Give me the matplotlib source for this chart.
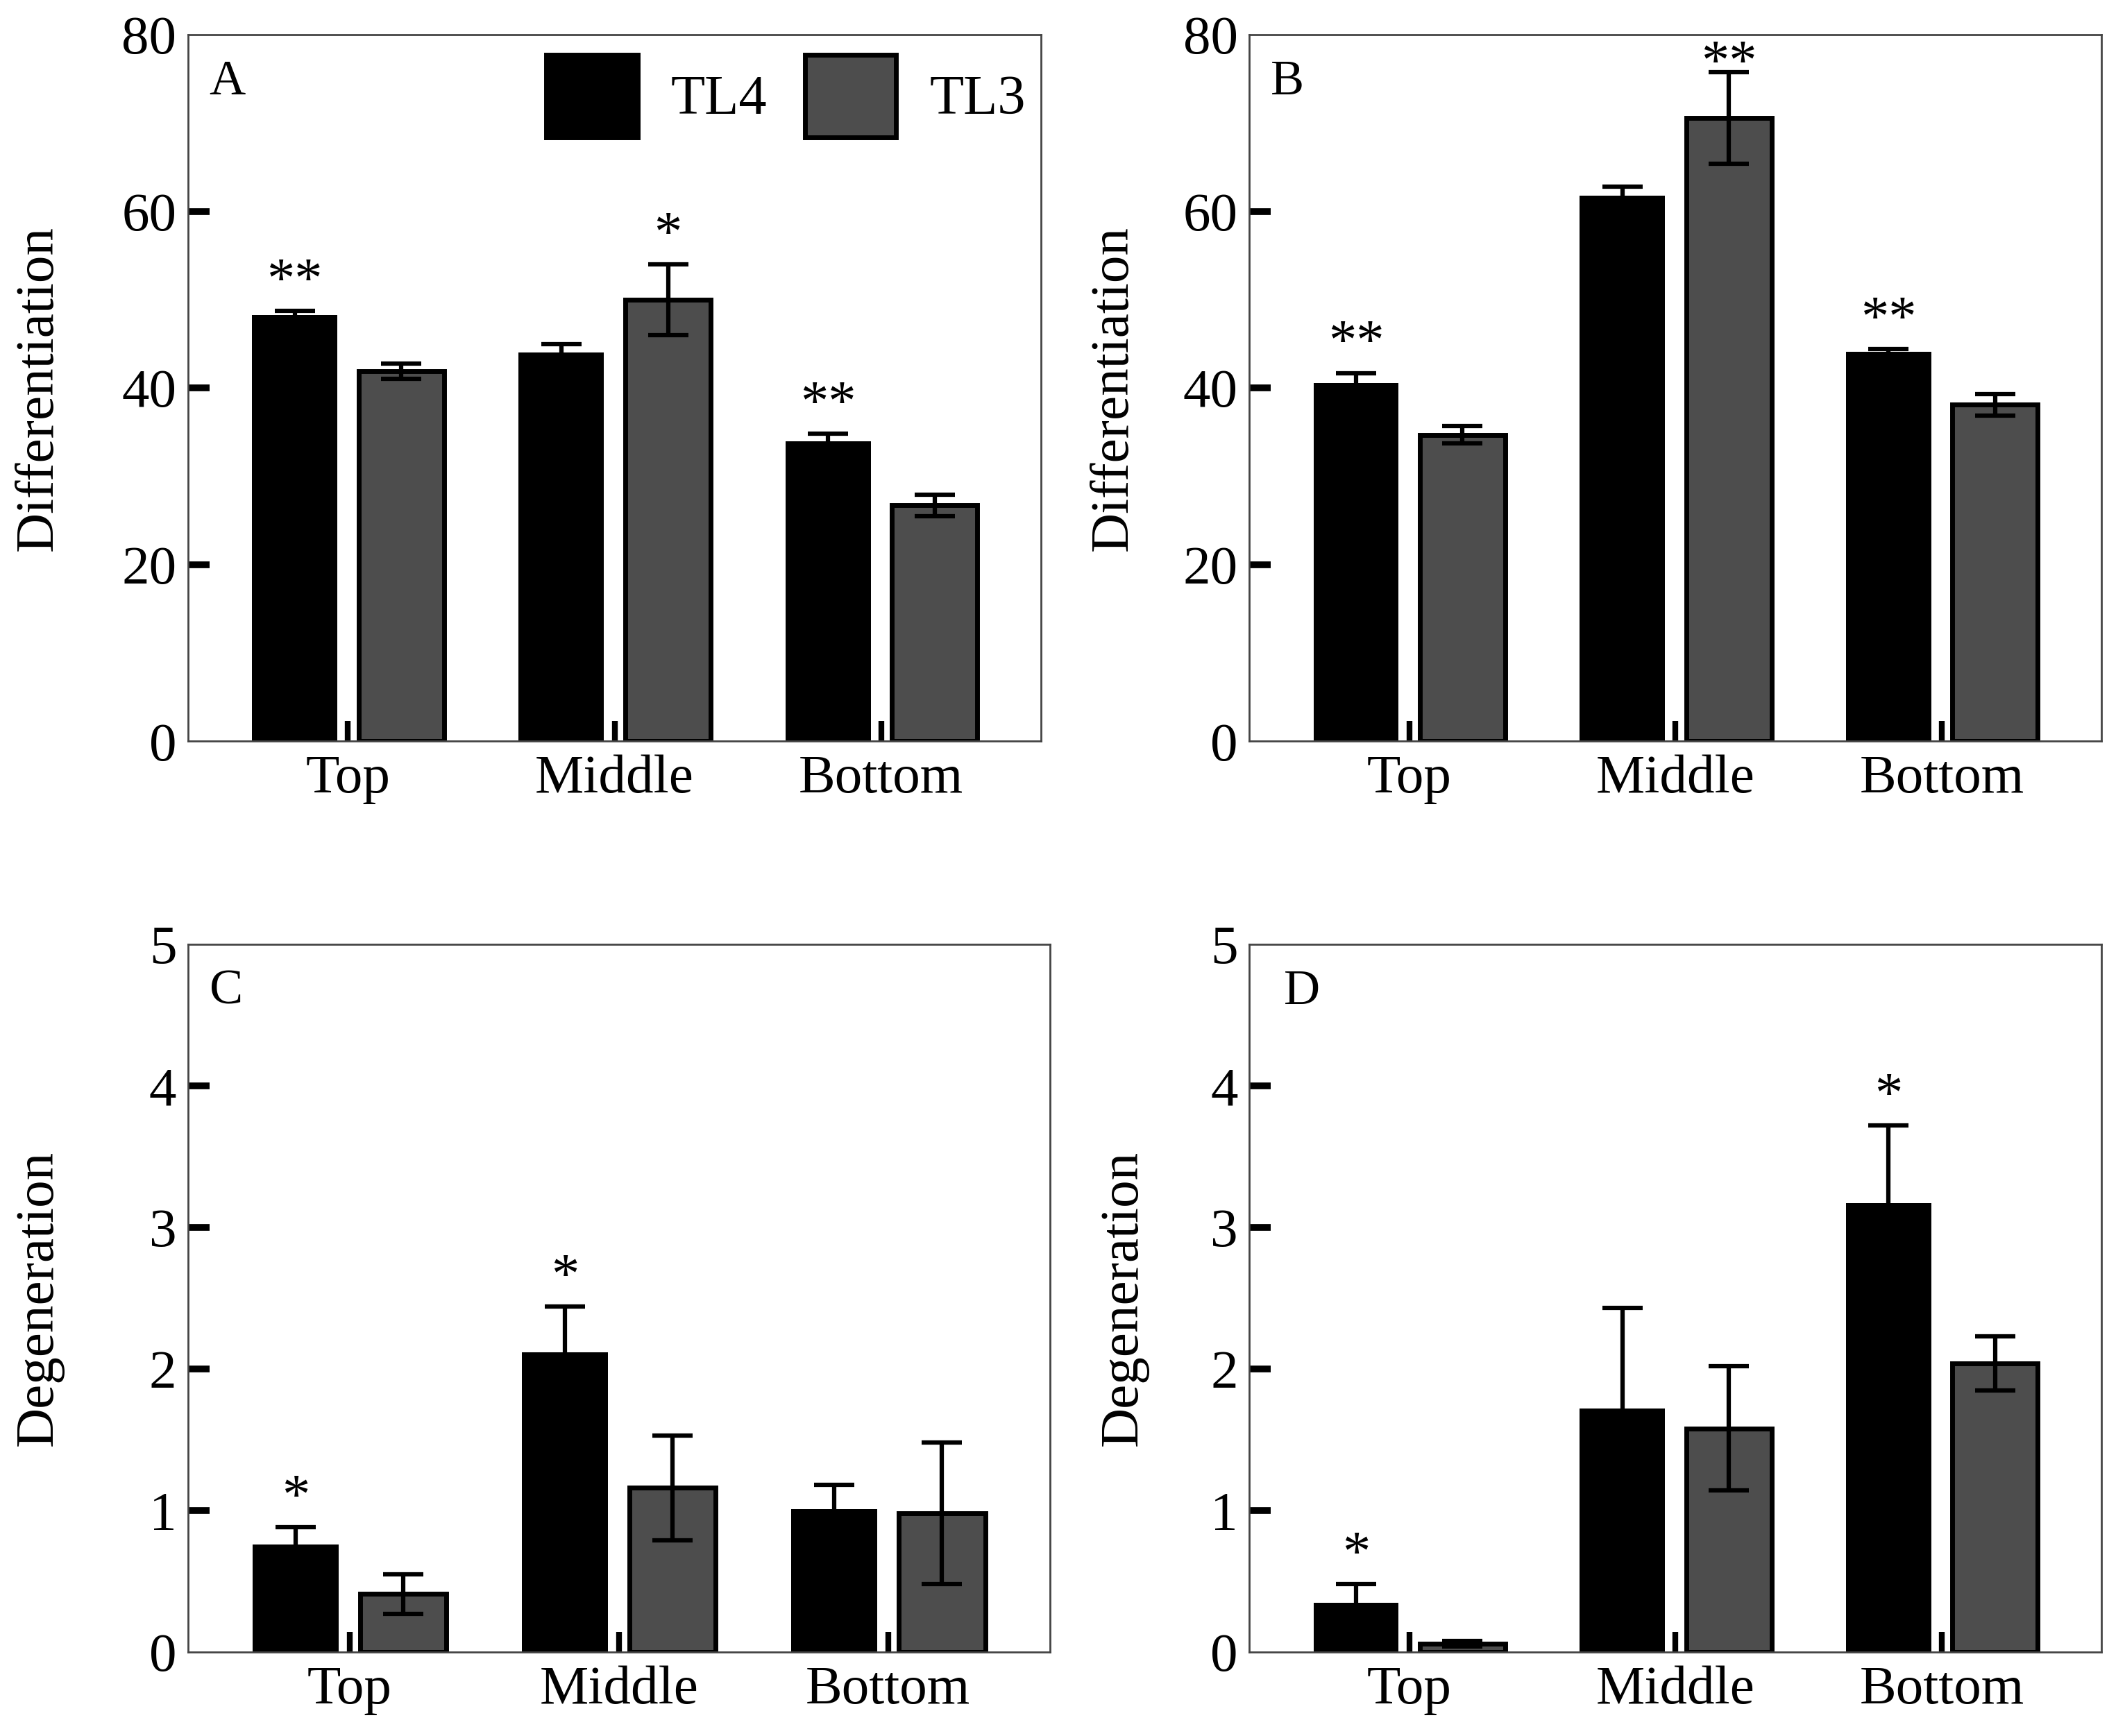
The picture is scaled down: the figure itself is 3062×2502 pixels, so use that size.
import numpy as np
import matplotlib
matplotlib.use("Agg")
import matplotlib.pyplot as plt

plt.rcParams['font.family'] = ['Liberation Serif', 'DejaVu Serif']

positions = ['Top', 'Middle', 'Bottom']
series = ['TL4', 'TL3']

# differentiation, panels A and B
diff_A_tl4 = [48.3, 44.0, 34.0]
diff_A_tl4_err = [0.4, 1.0, 0.8]
diff_A_tl3 = [41.9, 50.0, 26.7]
diff_A_tl3_err = [0.9, 4.0, 1.2]

diff_B_tl4 = [40.6, 61.8, 44.1]
diff_B_tl4_err = [1.1, 1.0, 0.3]
diff_B_tl3 = [34.7, 70.6, 38.1]
diff_B_tl3_err = [1.0, 5.2, 1.2]

# degeneration, panels C and D
deg_C_tl4 = [0.76, 2.12, 1.01]
deg_C_tl4_err = [0.12, 0.32, 0.17]
deg_C_tl3 = [0.41, 1.16, 0.98]
deg_C_tl3_err = [0.14, 0.37, 0.50]

deg_D_tl4 = [0.35, 1.72, 3.17]
deg_D_tl4_err = [0.13, 0.71, 0.55]
deg_D_tl3 = [0.06, 1.58, 2.04]
deg_D_tl3_err = [0.02, 0.44, 0.19]

# significance marks: (group index, series index, label)
stars_A = [(0, 0, '**'), (1, 1, '*'), (2, 0, '**')]
stars_B = [(0, 0, '**'), (1, 1, '**'), (2, 0, '**')]
stars_C = [(0, 0, '*'), (1, 0, '*')]
stars_D = [(0, 0, '*'), (2, 0, '*')]

colors = ['#000000', '#4d4d4d']
spine_col = '#444444'
fs = 57


def draw_panel(ax, tl4, tl4_err, tl3, tl3_err, stars, ylim, yticks, ylabel, letter, label_x,
               letter_x=0.025, star_pad=None):
    x = np.arange(len(positions))
    w = 0.32
    vals = [tl4, tl3]
    errs = [tl4_err, tl3_err]
    offs = [-0.2, 0.2]
    star_pad = star_pad or {}
    for i in range(2):
        ax.bar(x + offs[i], vals[i], w, color=colors[i], edgecolor='black',
               linewidth=5 if i == 1 else 0, label=series[i], zorder=2)
        ax.errorbar(x + offs[i], vals[i], yerr=errs[i], fmt='none', ecolor='black',
                    elinewidth=4.5, capsize=21, capthick=4.5, zorder=3)
    for g, s, lab in stars:
        top = vals[s][g] + errs[s][g]
        # the star over B/Middle sits close to the frame, so it is tucked lower
        pad = star_pad.get((g, s), 3)
        ax.annotate(lab, (x[g] + offs[s], top), xytext=(0, pad), textcoords='offset points',
                    ha='center', va='bottom', fontsize=58)
    ax.set_xlim(-0.6, 2.6)
    ax.set_ylim(*ylim)
    ax.set_yticks(yticks)
    ax.set_xticks(x)
    ax.set_xticklabels(positions)
    ax.tick_params(axis='y', direction='in', length=22, width=7, labelsize=fs, pad=12, color='black')
    ax.tick_params(axis='x', direction='in', length=21, width=6, labelsize=fs, pad=14, color='black')
    yt = ax.yaxis.get_major_ticks()
    yt[0].tick1line.set_visible(False)
    yt[-1].tick1line.set_visible(False)
    for sp in ax.spines.values():
        sp.set_color(spine_col)
        sp.set_linewidth(2)
    ax.set_ylabel(ylabel, fontsize=fs)
    ax.yaxis.set_label_coords(label_x, 0.5)
    ax.text(letter_x, 0.965, letter, transform=ax.transAxes, ha='left', va='top', fontsize=52)


fig = plt.figure(figsize=(30.62, 25.02), dpi=100)
axA = fig.add_axes([0.0885, 0.573, 0.4015, 0.407])
axB = fig.add_axes([0.588, 0.573, 0.401, 0.407])
axC = fig.add_axes([0.0885, 0.0484, 0.4055, 0.4076])
axD = fig.add_axes([0.588, 0.0484, 0.401, 0.4076])

draw_panel(axA, diff_A_tl4, diff_A_tl4_err, diff_A_tl3, diff_A_tl3_err, stars_A,
           (0, 80), [0, 20, 40, 60, 80], 'Differentiation', 'A', -0.146)
draw_panel(axB, diff_B_tl4, diff_B_tl4_err, diff_B_tl3, diff_B_tl3_err, stars_B,
           (0, 80), [0, 20, 40, 60, 80], 'Differentiation', 'B', -0.130, star_pad={(1, 1): -19})
draw_panel(axC, deg_C_tl4, deg_C_tl4_err, deg_C_tl3, deg_C_tl3_err, stars_C,
           (0, 5), [0, 1, 2, 3, 4, 5], 'Degeneration', 'C', -0.144)
draw_panel(axD, deg_D_tl4, deg_D_tl4_err, deg_D_tl3, deg_D_tl3_err, stars_D,
           (0, 5), [0, 1, 2, 3, 4, 5], 'Degeneration', 'D', -0.119, letter_x=0.04)

leg = axA.legend(loc='upper left', bbox_to_anchor=(0.42, 0.972), ncol=2, frameon=False,
                 fontsize=58, handlelength=1.63, handleheight=1.9, handletextpad=0.6,
                 columnspacing=0.67, borderpad=0, borderaxespad=0)
for h in leg.legend_handles:
    h.set_edgecolor('black')
    h.set_linewidth(5)

fig.savefig('out.png', dpi=100)
